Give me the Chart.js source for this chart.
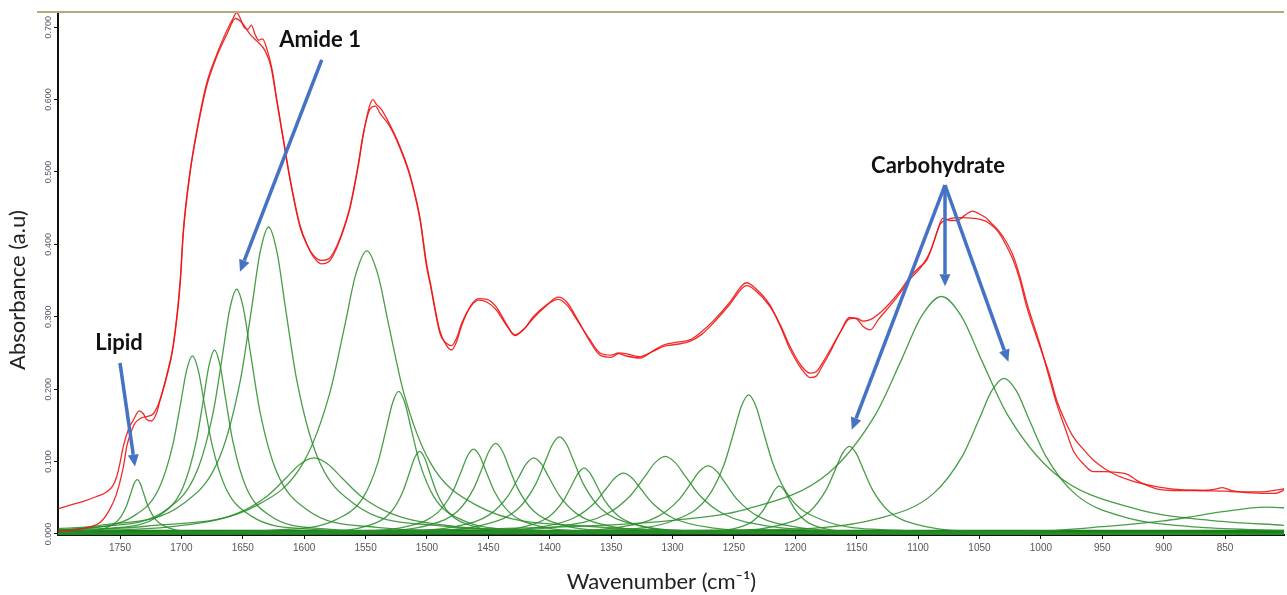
<!DOCTYPE html>
<html>
<head>
<meta charset="utf-8">
<title>FTIR band fitting</title>
<script src="https://cdn.jsdelivr.net/npm/chart.js@4.4.1/dist/chart.umd.min.js"></script>
<style>
  html, body { margin: 0; padding: 0; background: #fff; }
  #wrap { width: 1287px; height: 595px; position: relative; }
</style>
</head>
<body>
<div id="wrap"><canvas id="ftir"></canvas></div>
<script>
// ── 光谱数据：[波数 cm-1, 吸光度] ──────────────────────
const measured = [
  [1800,0.035],[1790,0.040],[1779.9,0.045],[1770,0.051],[1760.9,0.058],[1756,0.066],[1752.7,0.079],[1750,0.098],
  [1747.3,0.121],[1743,0.145],[1739.2,0.157],[1734.3,0.170],[1731,0.166],[1728.3,0.158],[1724.3,0.156],[1720,0.168],
  [1717.4,0.185],[1712,0.219],[1706.6,0.262],[1701,0.350],[1698.4,0.420],[1693,0.500],[1687.6,0.556],[1679.5,0.622],
  [1671.3,0.662],[1663,0.695],[1658,0.712],[1655,0.720],[1652,0.712],[1649,0.700],[1646,0.697],[1643,0.703],
  [1640,0.690],[1637,0.682],[1634,0.684],[1630,0.668],[1626,0.640],[1622.4,0.601],[1617,0.546],[1611.5,0.491],
  [1603.4,0.426],[1597,0.397],[1592.6,0.383],[1586,0.373],[1580,0.376],[1576.3,0.385],[1570,0.410],[1562.7,0.450],
  [1556,0.508],[1551.9,0.551],[1547,0.590],[1544,0.600],[1541,0.593],[1539,0.590],[1537,0.586],[1531,0.568],
  [1524.7,0.546],[1519,0.522],[1513.8,0.496],[1505.7,0.437],[1500.3,0.373],[1497.5,0.349],[1489.4,0.280],[1484,0.260],
  [1480,0.254],[1476,0.265],[1471.7,0.288],[1464,0.316],[1458,0.325],[1451,0.324],[1443.3,0.313],[1436,0.292],
  [1428.3,0.274],[1421,0.283],[1413.4,0.298],[1403,0.315],[1393,0.327],[1386,0.320],[1378,0.298],[1368,0.268],
  [1359,0.247],[1350,0.244],[1344,0.249],[1338,0.246],[1326.5,0.243],[1316,0.253],[1307.5,0.261],[1296,0.265],
  [1286,0.268],[1276,0.280],[1267,0.294],[1253,0.321],[1243,0.344],[1239.6,0.347],[1233,0.340],[1220.6,0.316],
  [1212,0.286],[1204.3,0.255],[1195,0.228],[1188,0.216],[1183,0.218],[1178,0.232],[1171.7,0.251],[1163,0.280],
  [1156,0.299],[1150,0.297],[1145,0.287],[1139,0.282],[1132,0.297],[1122.9,0.315],[1115,0.332],[1106.6,0.352],
  [1098,0.368],[1090,0.390],[1084,0.420],[1080,0.436],[1074,0.433],[1068,0.433],[1062,0.440],[1056,0.446],
  [1050,0.442],[1045,0.437],[1041.4,0.431],[1035,0.420],[1030.6,0.410],[1022.5,0.384],[1017,0.355],[1011.6,0.320],
  [1000.8,0.262],[993,0.215],[987.2,0.180],[980,0.145],[973.6,0.115],[965,0.096],[957.3,0.086],[948,0.086],
  [938.3,0.085],[929,0.082],[922,0.074],[915,0.068],[905,0.062],[892.1,0.060],[870,0.060],[858,0.062],
  [852,0.064],[845,0.060],[837.8,0.058],[820,0.056],[810,0.056],[800,0.062]
];

const fitted = [
  [1800,0.004],[1785,0.006],[1774,0.010],[1766,0.016],[1758,0.035],[1752.7,0.056],[1747,0.095],[1744.5,0.121],
  [1740,0.145],[1737.8,0.153],[1733,0.160],[1728.3,0.162],[1722.9,0.166],[1717.4,0.185],[1712,0.217],[1706.6,0.259],
  [1701,0.345],[1698.4,0.416],[1693,0.498],[1687.6,0.553],[1679.5,0.618],[1671.3,0.659],[1663,0.690],[1656,0.712],
  [1650,0.705],[1644,0.690],[1638,0.680],[1632,0.668],[1627,0.645],[1622.4,0.599],[1617,0.544],[1611.5,0.489],
  [1603.4,0.424],[1597,0.397],[1592.6,0.385],[1586,0.378],[1580,0.380],[1576.3,0.388],[1570,0.412],[1562.7,0.452],
  [1556,0.510],[1551.9,0.553],[1546,0.588],[1542,0.591],[1538.2,0.581],[1531,0.565],[1524.7,0.544],[1519,0.520],
  [1513.8,0.494],[1505.7,0.434],[1500.3,0.369],[1497.5,0.346],[1489.4,0.277],[1483,0.262],[1480,0.260],[1476,0.270],
  [1471.7,0.291],[1464,0.315],[1458,0.323],[1451,0.320],[1443.3,0.309],[1436,0.290],[1428.3,0.275],[1421,0.283],
  [1413.4,0.300],[1403,0.316],[1393,0.324],[1386,0.316],[1378,0.296],[1368,0.270],[1359,0.250],[1350,0.247],
  [1344,0.250],[1338,0.249],[1326.5,0.245],[1316,0.252],[1307.5,0.259],[1296,0.262],[1286,0.266],[1276,0.276],
  [1267,0.291],[1253,0.318],[1243,0.340],[1239.6,0.343],[1233,0.337],[1220.6,0.314],[1212,0.288],[1204.3,0.259],
  [1195,0.232],[1188,0.222],[1183,0.224],[1178,0.236],[1171.7,0.254],[1163,0.280],[1156,0.297],[1150,0.298],
  [1145,0.294],[1139,0.296],[1130,0.307],[1122.9,0.319],[1115,0.335],[1106.6,0.355],[1098,0.370],[1093,0.378],
  [1088,0.400],[1082,0.428],[1075,0.435],[1065,0.437],[1055,0.436],[1045,0.432],[1041.4,0.428],[1035,0.418],
  [1030.6,0.406],[1022.5,0.378],[1017,0.350],[1011.6,0.314],[1000.8,0.259],[993,0.220],[987.2,0.185],[980,0.155],
  [973.6,0.134],[965,0.116],[957.3,0.102],[948,0.090],[938.3,0.081],[929,0.075],[919.3,0.070],[905,0.065],
  [892.1,0.062],[870,0.060],[850,0.059],[837.8,0.058],[820,0.058],[810,0.060],[800,0.063]
];

// ── 拟合子峰 ──────────────────────
const band1736 = [[1800,0.0015],[1790,0.002],[1763,0.0075],[1751.3,0.0193],[1745,0.0375],[1741.4,0.0551],[1738.7,0.0688],[1736,0.075],[1733.3,0.0688],[1730.6,0.0551],[1727,0.0375],[1720.7,0.0193],[1709,0.0075],[1682,0.002],[1628,0.0005],[800,0]];
const band1691 = [[1800,0.0052],[1787,0.0066],[1739,0.0246],[1718.2,0.0632],[1707,0.123],[1700.6,0.1808],[1695.8,0.2256],[1691,0.246],[1686.2,0.2256],[1681.4,0.1808],[1675,0.123],[1663.8,0.0632],[1643,0.0246],[1595,0.0066],[1499,0.0017],[800,0.0001]];
const band1673 = [[1800,0.0035],[1763,0.0069],[1718,0.0254],[1698.5,0.0653],[1688,0.127],[1682,0.1867],[1677.5,0.2329],[1673,0.254],[1668.5,0.2329],[1664,0.1867],[1658,0.127],[1647.5,0.0653],[1628,0.0254],[1583,0.0069],[1493,0.0018],[800,0.0001]];
const band1655 = [[1800,0.0057],[1769,0.0091],[1712,0.0338],[1687.3,0.0869],[1674,0.169],[1666.4,0.2484],[1660.7,0.31],[1655,0.338],[1649.3,0.31],[1643.6,0.2484],[1636,0.169],[1622.7,0.0869],[1598,0.0338],[1541,0.0091],[1427,0.0023],[800,0.0002]];
const band1629 = [[1800,0.0075],[1767,0.0115],[1698,0.0424],[1668.1,0.109],[1652,0.212],[1642.8,0.3116],[1635.9,0.3888],[1629,0.424],[1622.1,0.3888],[1615.2,0.3116],[1606,0.212],[1589.9,0.109],[1560,0.0424],[1491,0.0115],[1353,0.0029],[800,0.0003]];
const band1592 = [[1800,0.0034],[1706,0.0105],[1656.6,0.027],[1630,0.0525],[1614.8,0.0772],[1603.4,0.0963],[1592,0.105],[1580.6,0.0963],[1569.2,0.0772],[1554,0.0525],[1527.4,0.027],[1478,0.0105],[1364,0.0028],[1136,0.0007],[800,0.0002]];
const band1549 = [[1800,0.0055],[1729,0.0106],[1639,0.0391],[1600,0.1005],[1579,0.1955],[1567,0.2874],[1558,0.3585],[1549,0.391],[1540,0.3585],[1531,0.2874],[1519,0.1955],[1498,0.1005],[1459,0.0391],[1369,0.0106],[1189,0.0027],[800,0.0006]];
const band1523 = [[1800,0.0007],[1727,0.0014],[1625,0.0053],[1574,0.0197],[1551.9,0.0506],[1540,0.0985],[1533.2,0.1448],[1528.1,0.1806],[1523,0.197],[1517.9,0.1806],[1512.8,0.1448],[1506,0.0985],[1494.1,0.0506],[1472,0.0197],[1421,0.0053],[1319,0.0014],[800,0.0001]];
const band1506 = [[1800,0.0003],[1674,0.0008],[1590,0.0031],[1548,0.0114],[1529.8,0.0293],[1520,0.057],[1514.4,0.0838],[1510.2,0.1045],[1506,0.114],[1501.8,0.1045],[1497.6,0.0838],[1492,0.057],[1482.2,0.0293],[1464,0.0114],[1422,0.0031],[1338,0.0008],[800,0]];
const band1462 = [[1800,0.0003],[1666,0.0008],[1564,0.0032],[1513,0.0117],[1490.9,0.0301],[1479,0.0585],[1472.2,0.086],[1467.1,0.1073],[1462,0.117],[1456.9,0.1073],[1451.8,0.086],[1445,0.0585],[1433.1,0.0301],[1411,0.0117],[1360,0.0032],[1258,0.0008],[800,0.0001]];
const band1444 = [[1800,0.0003],[1660,0.0009],[1552,0.0034],[1498,0.0125],[1474.6,0.0321],[1462,0.0625],[1454.8,0.0919],[1449.4,0.1146],[1444,0.125],[1438.6,0.1146],[1433.2,0.0919],[1426,0.0625],[1413.4,0.0321],[1390,0.0125],[1336,0.0034],[1228,0.0009],[800,0.0001]];
const band1413 = [[1800,0.0003],[1665,0.0007],[1539,0.0028],[1476,0.0105],[1448.7,0.027],[1434,0.0525],[1425.6,0.0772],[1419.3,0.0963],[1413,0.105],[1406.7,0.0963],[1400.4,0.0772],[1392,0.0525],[1377.3,0.027],[1350,0.0105],[1287,0.0028],[1161,0.0007],[800,0.0001]];
const band1392 = [[1800,0.0003],[1632,0.0009],[1512,0.0036],[1452,0.0134],[1426,0.0344],[1412,0.067],[1404,0.0985],[1398,0.1229],[1392,0.134],[1386,0.1229],[1380,0.0985],[1372,0.067],[1358,0.0344],[1332,0.0134],[1272,0.0036],[1152,0.0009],[800,0.0002]];
const band1372 = [[1800,0.0001],[1576,0.0006],[1474,0.0025],[1423,0.0091],[1400.9,0.0234],[1389,0.0455],[1382.2,0.0669],[1377.1,0.0834],[1372,0.091],[1366.9,0.0834],[1361.8,0.0669],[1355,0.0455],[1343.1,0.0234],[1321,0.0091],[1270,0.0025],[1168,0.0006],[800,0.0001]];
const band1340 = [[1800,0.0002],[1628,0.0006],[1484,0.0023],[1412,0.0084],[1380.8,0.0216],[1364,0.042],[1354.4,0.0617],[1347.2,0.077],[1340,0.084],[1332.8,0.077],[1325.6,0.0617],[1316,0.042],[1299.2,0.0216],[1268,0.0084],[1196,0.0023],[1052,0.0006],[800,0.0002]];
const band1306 = [[1800,0.0003],[1642,0.0007],[1474,0.0029],[1390,0.0107],[1353.6,0.0275],[1334,0.0535],[1322.8,0.0787],[1314.4,0.0981],[1306,0.107],[1297.6,0.0981],[1289.2,0.0787],[1278,0.0535],[1258.4,0.0275],[1222,0.0107],[1138,0.0029],[970,0.0007],[800,0.0003]];
const band1271 = [[1800,0.0002],[1559,0.0006],[1415,0.0025],[1343,0.0094],[1311.8,0.0242],[1295,0.047],[1285.4,0.0691],[1278.2,0.0862],[1271,0.094],[1263.8,0.0862],[1256.6,0.0691],[1247,0.047],[1230.2,0.0242],[1199,0.0094],[1127,0.0025],[983,0.0006],[800,0.0002]];
const band1238 = [[1800,0.0002],[1478,0.0013],[1358,0.0052],[1298,0.0192],[1272,0.0493],[1258,0.096],[1250,0.1412],[1244,0.1761],[1238,0.192],[1232,0.1761],[1226,0.1412],[1218,0.096],[1204,0.0493],[1178,0.0192],[1118,0.0052],[998,0.0013],[800,0.0004]];
const band1213 = [[1800,0],[1369,0.0005],[1291,0.0018],[1252,0.0066],[1235.1,0.017],[1226,0.033],[1220.8,0.0485],[1216.9,0.0605],[1213,0.066],[1209.1,0.0605],[1205.2,0.0485],[1200,0.033],[1190.9,0.017],[1174,0.0066],[1135,0.0018],[1057,0.0005],[800,0.0001]];
const band1156 = [[1800,0.0001],[1384,0.0008],[1270,0.0033],[1213,0.0121],[1188.3,0.0311],[1175,0.0605],[1167.4,0.0889],[1161.7,0.111],[1156,0.121],[1150.3,0.111],[1144.6,0.0889],[1137,0.0605],[1123.7,0.0311],[1099,0.0121],[1042,0.0033],[928,0.0008],[800,0.0003]];
const band1081 = [[1800,0.0018],[1405,0.0089],[1300,0.0188],[1243,0.0328],[1172.8,0.0843],[1135,0.164],[1113.4,0.2411],[1097.2,0.3008],[1081,0.328],[1064.8,0.3008],[1048.6,0.2411],[1027,0.164],[989.2,0.0843],[919,0.0328],[860,0.0185],[800,0.0117]];
const band1030 = [[1800,0.0004],[1234,0.0058],[1132,0.0215],[1087.8,0.0553],[1064,0.1075],[1050.4,0.158],[1040.2,0.1972],[1030,0.215],[1019.8,0.1972],[1009.6,0.158],[996,0.1075],[972.2,0.0553],[928,0.0215],[880,0.0105],[826,0.0058],[800,0.0046]];
const band818  = [[1800,0],[1300,0.0008],[1100,0.002],[1000,0.004],[950,0.010],[900,0.018],[880,0.023],[850,0.031],[818,0.037],[800,0.036]];
const baseline = [[1800,0.003],[800,0.003]];

const bands = [band1736, band1691, band1673, band1655, band1629, band1592, band1549, band1523, band1506,
  band1462, band1444, band1413, band1392, band1372, band1340, band1306, band1271, band1238, band1213,
  band1156, band1081, band1030, band818];

const yTicks = [0, 0.1, 0.2, 0.3, 0.4, 0.5, 0.6, 0.7];
const xTicks = [1750, 1700, 1650, 1600, 1550, 1500, 1450, 1400, 1350, 1300, 1250, 1200, 1150, 1100, 1050, 1000, 950, 900, 850];

// ── 标注（数据坐标）──────────────────────
const notes = [
  { text: 'Amide 1', x: 1587, y: 0.682 },
  { text: 'Lipid', x: 1750.8, y: 0.264 },
  { text: 'Carbohydrate', x: 1083.8, y: 0.508 },
];
const arrows = [
  { from: [1585.7, 0.655], to: [1652.3, 0.362] },
  { from: [1750, 0.236], to: [1737.8, 0.093] },
  { from: [1078.1, 0.482], to: [1154, 0.144] },
  { from: [1078.1, 0.482], to: [1078.1, 0.342] },
  { from: [1078.1, 0.482], to: [1026.5, 0.238] },
];

const RED = 'rgba(240,20,20,0.9)';
const GREEN = 'rgba(40,140,40,0.85)';
const BLUE = '#4472c4';

function lineSet(data, color, width) {
    return {
        data, borderColor: color, borderWidth: width,
        pointRadius: 0, fill: false,
        cubicInterpolationMode: 'monotone',
    };
}

// 标注插件：箭头 + 文本 + 顶部边框
const annotate = {
    id: 'annotate',
    afterDatasetsDraw(chart) {
        const { ctx, chartArea, scales: { x, y } } = chart;
        ctx.save();
        // 顶部细框线
        ctx.strokeStyle = '#b3ab7c';
        ctx.lineWidth = 2;
        ctx.beginPath();
        ctx.moveTo(chartArea.left - 21, chartArea.top);
        ctx.lineTo(chartArea.right, chartArea.top);
        ctx.stroke();

        ctx.strokeStyle = BLUE;
        ctx.fillStyle = BLUE;
        ctx.lineWidth = 3.5;
        arrows.forEach(a => {
            const x0 = x.getPixelForValue(a.from[0]), y0 = y.getPixelForValue(a.from[1]);
            const x1 = x.getPixelForValue(a.to[0]), y1 = y.getPixelForValue(a.to[1]);
            const ang = Math.atan2(y1 - y0, x1 - x0);
            const head = 12, half = 5.5;
            const bx = x1 - head * Math.cos(ang), by = y1 - head * Math.sin(ang);
            ctx.beginPath();
            ctx.moveTo(x0, y0);
            ctx.lineTo(bx, by);
            ctx.stroke();
            ctx.beginPath();
            ctx.moveTo(x1, y1);
            ctx.lineTo(bx + half * Math.sin(ang), by - half * Math.cos(ang));
            ctx.lineTo(bx - half * Math.sin(ang), by + half * Math.cos(ang));
            ctx.closePath();
            ctx.fill();
        });

        ctx.fillStyle = '#111';
        ctx.font = 'bold 22px Lato, "Open Sans", sans-serif';
        ctx.textAlign = 'center';
        ctx.textBaseline = 'middle';
        notes.forEach(n => {
            ctx.fillText(n.text, x.getPixelForValue(n.x), y.getPixelForValue(n.y));
        });
        ctx.restore();
    }
};

const datasets = [
    lineSet(measured, RED, 1.3),
    lineSet(fitted, RED, 1.3),
    ...bands.map(b => lineSet(b, GREEN, 1.3)),
    lineSet(baseline, '#157f15', 4),
];

new Chart(document.getElementById('ftir').getContext('2d'), {
    type: 'line',
    data: { datasets },
    plugins: [annotate],
    options: {
        responsive: true,
        maintainAspectRatio: false,
        animation: false,
        layout: { padding: { top: 12, right: 3, left: 0, bottom: 0 } },
        plugins: { legend: { display: false }, tooltip: { enabled: false } },
        scales: {
            x: {
                type: 'linear',
                reverse: true,
                min: 802,
                max: 1800.5,
                afterFit: s => { s.height = 60; },
                afterBuildTicks: s => { s.ticks = xTicks.map(v => ({ value: v })); },
                border: { display: true, color: '#111', width: 2 },
                grid: { display: true, drawOnChartArea: false, drawTicks: true, tickLength: 4, color: '#111' },
                ticks: {
                    color: '#555', padding: 3, maxRotation: 0, autoSkip: false,
                    font: { family: '"Liberation Sans", Arial, sans-serif', size: 10 },
                    callback: v => String(v),
                },
                title: {
                    display: true, text: 'Wavenumber (cm⁻¹)\u2003\u2009', color: '#222',
                    font: { family: 'Lato, "Open Sans", sans-serif', size: 22 },
                    padding: { top: 0, bottom: 0 },
                },
            },
            y: {
                type: 'linear',
                min: -0.0015,
                max: 0.721,
                afterFit: s => { s.width = 58; },
                afterBuildTicks: s => { s.ticks = yTicks.map(v => ({ value: v })); },
                border: { display: true, color: '#111', width: 2 },
                grid: { display: true, drawOnChartArea: false, drawTicks: true, tickLength: 4, color: '#111' },
                ticks: {
                    color: '#5a5a70', padding: -6, minRotation: 90, maxRotation: 90, crossAlign: 'center',
                    font: { family: '"Liberation Sans", Arial, sans-serif', size: 9 },
                    callback: v => v.toFixed(3),
                },
                title: {
                    display: true, text: 'Absorbance (a.u)\u2003\u2003', color: '#222',
                    font: { family: 'Lato, "Open Sans", sans-serif', size: 22 },
                    padding: { top: 5, bottom: 0 },
                },
            },
        },
    },
});
</script>
</body>
</html>
